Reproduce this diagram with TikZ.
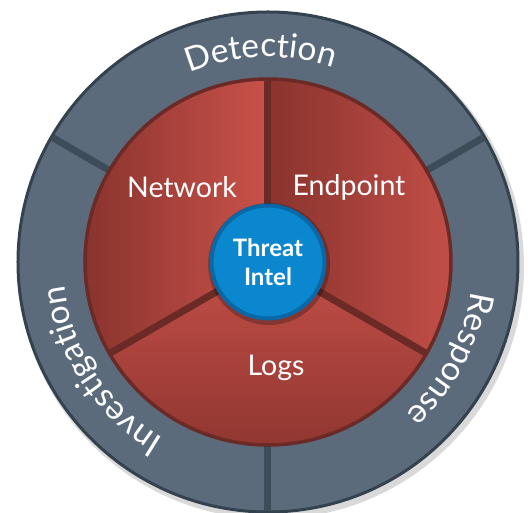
\documentclass[tikz,border=0pt]{standalone}
\usepackage{fontspec}
\setmainfont{Lato}
\usetikzlibrary{decorations.text}

\definecolor{ringgray}{HTML}{5B6B7C}
\definecolor{ringline}{HTML}{3D4C59}
\definecolor{ringedge}{HTML}{33424E}
\definecolor{reddark}{HTML}{8A332E}
\definecolor{redlight}{HTML}{C9524A}
\definecolor{redline}{HTML}{6B2A26}
\definecolor{intelblue}{HTML}{0B87CF}
\definecolor{inteledge}{HTML}{0A68A6}

\tikzset{
  ringlabel/.style={decorate, decoration={text along path, text align=center,
    text={|\fontsize{33.5}{33}\selectfont\color{white}|#1}}},
  sectorlabel/.style={text=white, font=\fontsize{28.5}{30}\selectfont},
  hub/.style={circle, fill=intelblue, draw=inteledge, line width=4pt,
    minimum size=113pt, inner sep=0pt, text=white, align=center,
    font=\bfseries\fontsize{24}{29}\selectfont}
}

\begin{document}
\begin{tikzpicture}[x=1pt, y=1pt]
  \useasboundingbox (-268,-251) rectangle (263,262);

  % outer ring with soft shadow
  \fill[black, opacity=0.15] (3,-4) circle (253);
  \fill[ringgray, draw=ringedge, line width=3pt] (0,0) circle (250);
  \foreach \a in {30,150,270}
    \draw[ringline, line width=7pt] (\a:183) -- (\a:249);

  % red sectors
  \shade[left color=reddark, right color=redlight]
    (0,0) -- (90:183) arc (90:210:183) -- cycle;
  \shade[left color=reddark, right color=redlight]
    (0,0) -- (-30:183) arc (-30:90:183) -- cycle;
  \shade[top color=redlight!90!reddark, bottom color=reddark]
    (0,0) -- (210:183) arc (210:330:183) -- cycle;
  \draw[redline, line width=3.5pt] (0,0) circle (183);
  \foreach \a in {90,210,330}
    \draw[redline, line width=7pt] (0,0) -- (\a:183);

  % ring labels
  \path[ringlabel=Detection] (137:205) arc (137:47:205);
  \path[ringlabel=Investigation] (258:205) arc (258:168:205);
  \path[ringlabel=Response] (17:205) arc (17:-73:205);

  % sector labels
  \node[sectorlabel] (network) at (-86,75) {Network};
  \node[sectorlabel] (endpoint) at (81,75) {Endpoint};
  \node[sectorlabel] (logs) at (8,-106) {Logs};

  % center
  \fill[black, opacity=0.25] (1,-2) circle (61);
  \node[hub] (intel) at (0,0) {Threat\\Intel};
\end{tikzpicture}
\end{document}
